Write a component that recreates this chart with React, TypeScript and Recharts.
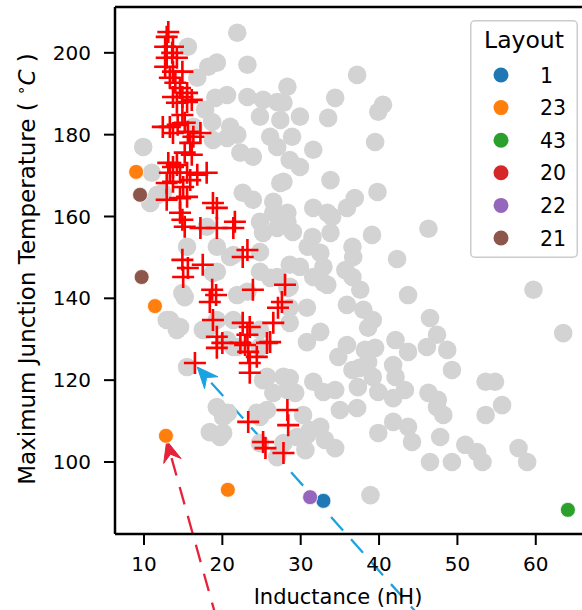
import React from "react";
import { ScatterChart, Scatter, XAxis, YAxis, ReferenceLine, Legend } from "recharts";

const FONT = "DejaVu Sans";
const X_DOMAIN = [6.3, 65.9];
const Y_DOMAIN = [82.4, 211.2];
const X_TICKS = [10, 20, 30, 40, 50, 60];
const Y_TICKS = [100, 120, 140, 160, 180, 200];

// all designs (grey background cloud)
const GRAY_POINTS = [
  [21.9, 204.9], [15.6, 201.5], [18.2, 196.6], [19.3, 197.6], [23.2, 197.1], [16.8, 193.9], [28.3, 191.7],
  [19.1, 189.0], [20.6, 189.7], [23.2, 189.2], [25.2, 188.5], [27.0, 188.0], [37.2, 194.6], [34.4, 189.0],
  [27.8, 187.8], [40.5, 187.3], [39.9, 185.6], [29.9, 184.4], [33.5, 184.1], [27.4, 183.6], [28.9, 179.5],
  [39.5, 178.2], [31.6, 176.3], [28.6, 173.8], [29.9, 172.1], [33.8, 168.9], [27.8, 168.5], [39.8, 166.0],
  [36.9, 164.5], [35.9, 162.1], [31.6, 162.1], [33.4, 160.9], [34.0, 159.9], [28.3, 160.9], [28.3, 158.7],
  [33.8, 156.0], [39.1, 155.5], [46.3, 157.0], [31.5, 155.0], [30.9, 152.6], [32.5, 151.1], [36.6, 152.6],
  [36.7, 150.1], [35.7, 146.9], [36.6, 145.2], [42.3, 149.6], [29.9, 147.7], [32.9, 147.7], [31.6, 145.2],
  [33.4, 143.3], [37.6, 142.1], [43.7, 140.8], [59.7, 142.1], [28.6, 142.8], [32.9, 143.8], [35.9, 138.4],
  [38.0, 137.2], [39.2, 134.7], [38.6, 132.8], [30.8, 137.7], [28.6, 134.0], [32.5, 131.8], [30.8, 129.3],
  [46.5, 135.2], [47.4, 131.1], [46.1, 128.1], [48.7, 127.4], [42.1, 129.8], [43.7, 126.9], [63.5, 131.5],
  [35.9, 128.6], [34.8, 125.7], [38.2, 127.4], [39.5, 127.9], [38.6, 124.4], [36.6, 122.5], [41.8, 123.7],
  [42.1, 120.8], [43.3, 117.6], [39.9, 117.1], [37.3, 118.3], [41.8, 115.6], [49.3, 122.5], [53.6, 119.6],
  [54.8, 119.6], [28.6, 120.5], [29.3, 116.9], [31.6, 119.6], [32.9, 117.1], [34.4, 117.6], [46.3, 116.9],
  [47.5, 115.2], [48.2, 111.5], [55.7, 113.9], [53.6, 111.5], [35.0, 112.7], [37.2, 113.2], [30.3, 111.5],
  [32.5, 108.6], [30.8, 106.6], [33.1, 105.4], [34.4, 103.4], [30.6, 102.9], [39.9, 107.1], [41.8, 109.8],
  [43.7, 108.6], [44.2, 104.9], [47.8, 106.1], [51.0, 104.2], [52.5, 102.4], [53.2, 100.0], [46.5, 100.0],
  [49.3, 100.0], [57.8, 103.4], [58.9, 100.0], [38.9, 91.9], [15.2, 140.3], [12.9, 134.7], [14.6, 133.0],
  [18.0, 132.3], [21.4, 134.7], [15.5, 123.2], [19.3, 113.4], [20.7, 112.0], [18.4, 107.3], [19.7, 106.1],
  [24.8, 111.0], [25.2, 120.0], [27.8, 120.8], [21.4, 128.1], [9.9, 177.0], [11.0, 170.7], [10.8, 163.3],
  [12.4, 165.8], [17.8, 186.1], [21.0, 181.9], [16.3, 181.9], [18.8, 178.7], [22.3, 175.6], [23.9, 174.6],
  [27.0, 177.0], [24.8, 184.4], [27.4, 168.2], [22.6, 165.8], [23.9, 164.1], [18.0, 157.5], [15.5, 152.6],
  [19.3, 152.6], [21.0, 150.1], [26.5, 160.9], [25.2, 156.0], [18.8, 146.2], [14.9, 141.3], [27.0, 145.2],
  [11.7, 165.3], [26.5, 163.6], [24.8, 158.7], [27.0, 157.2], [29.0, 156.2], [21.4, 150.6], [24.8, 151.3],
  [19.3, 146.5], [24.8, 146.5], [26.1, 145.0], [28.6, 148.2], [21.9, 140.8], [23.2, 141.6], [28.3, 142.5],
  [28.6, 137.7], [13.3, 134.7], [14.2, 132.3], [17.5, 132.3], [19.3, 134.7], [20.6, 129.8], [21.9, 128.1],
  [24.8, 132.3], [24.8, 128.1], [25.7, 120.8], [28.3, 117.6], [26.5, 116.9], [20.1, 111.0], [20.1, 107.1],
  [24.4, 112.0], [25.7, 112.7], [24.8, 104.6], [27.8, 104.6], [27.0, 101.2], [37.5, 123.0], [39.2, 120.8],
  [47.4, 113.4], [31.2, 107.8], [29.5, 106.1], [18.7, 183.1], [20.6, 179.2], [21.9, 180.0], [26.1, 179.5],
];

// pareto / selected designs (red crosses)
const CROSS_POINTS = [
  [13.1, 205.1], [12.9, 203.9], [13.7, 201.5], [12.7, 201.5], [13.6, 200.0], [12.9, 198.8], [14.2, 198.8],
  [12.7, 196.6], [13.7, 195.4], [14.9, 195.4], [13.3, 193.9], [14.0, 192.7], [14.6, 191.4], [15.5, 190.2],
  [13.7, 189.2], [14.9, 189.2], [16.1, 188.5], [14.2, 187.8], [15.5, 188.0], [14.9, 184.8], [13.3, 181.9],
  [12.4, 181.9], [14.3, 182.4], [15.2, 182.9], [13.7, 180.4], [15.6, 180.7], [16.3, 179.5], [17.2, 180.4],
  [15.9, 178.0], [15.2, 175.6], [16.1, 175.1], [13.1, 173.1], [13.7, 172.1], [14.2, 172.6], [13.3, 170.7],
  [14.6, 170.7], [12.9, 168.2], [13.7, 168.5], [15.5, 170.7], [15.9, 168.9], [15.0, 167.2], [12.9, 164.1],
  [14.6, 164.5], [15.5, 164.8], [14.6, 160.9], [14.9, 159.2], [15.2, 157.5], [18.0, 170.7], [16.8, 170.2],
  [18.8, 163.3], [19.3, 162.1], [17.2, 157.2], [19.3, 157.2], [21.6, 158.7], [21.4, 157.2], [23.2, 151.8],
  [22.6, 150.1], [14.9, 149.4], [15.6, 147.4], [15.0, 145.2], [17.5, 148.2], [18.7, 142.1], [19.2, 140.8],
  [18.4, 139.1], [23.9, 142.1], [28.0, 143.3], [27.6, 139.1], [27.1, 137.7], [18.8, 134.7], [19.3, 130.6],
  [20.0, 129.1], [19.3, 127.9], [22.6, 134.0], [23.5, 133.0], [23.2, 131.1], [22.3, 129.1], [22.9, 128.6],
  [23.3, 126.9], [25.7, 129.1], [26.1, 129.3], [24.4, 125.7], [23.5, 124.2], [23.5, 121.8], [26.5, 134.0],
  [16.5, 124.2], [23.3, 109.8], [25.2, 104.9], [25.5, 103.4], [27.8, 102.2], [28.3, 112.7], [28.4, 109.0],
];

// reference layouts
const LAYOUT_NAMES = ["1", "23", "43", "20", "22", "21"];
const LAYOUT_COLORS = ["#1f77b4", "#ff7f0e", "#2ca02c", "#d62728", "#9467bd", "#8c564b"];
const LAYOUT_1 = [[32.9, 90.5]];
const LAYOUT_23 = [[9.0, 170.9], [11.4, 138.1], [12.8, 106.4], [20.7, 93.2]];
const LAYOUT_43 = [[64.1, 88.3]];
const LAYOUT_20: number[][] = [];
const LAYOUT_22 = [[31.2, 91.4]];
const LAYOUT_21 = [[9.5, 165.3], [9.7, 145.2]];
const LAYOUT_POINTS = [LAYOUT_1, LAYOUT_23, LAYOUT_43, LAYOUT_20, LAYOUT_22, LAYOUT_21];

// annotation arrows: [tail, head]
const BLUE_ARROW = [[45.6, 61.4], [16.8, 123.2]];
const RED_ARROW = [[19.3, 61.4], [12.9, 105.2]];

const rows = (pts: number[][]) => pts.map(([x, y]) => ({ x, y }));

const GrayDot = (p: any) => <circle cx={p.cx} cy={p.cy} r={9.3} fill="#d3d3d3" />;
const Cross = (p: any) => (
  <path
    d={`M${p.cx - 11},${p.cy}H${p.cx + 11}M${p.cx},${p.cy - 11}V${p.cy + 11}`}
    stroke="#ff0000"
    strokeWidth={2.6}
    fill="none"
  />
);
const colorDot = (color: string) => (p: any) => (
  <circle cx={p.cx} cy={p.cy} r={7.5} fill={color} stroke="#ffffff" strokeWidth={0.8} />
);

const arrowShape = (color: string) => (p: any) => {
  const { x1, y1, x2, y2 } = p;
  const dx = x2 - x1;
  const dy = y2 - y1;
  const len = Math.hypot(dx, dy);
  const ux = dx / len;
  const uy = dy / len;
  const nx = -uy;
  const ny = ux;
  const L = 21;
  const W = 9;
  const N = 14;
  const bx = x2 - ux * L;
  const by = y2 - uy * L;
  const head = `M${x2},${y2}L${bx + nx * W},${by + ny * W}L${x2 - ux * N},${y2 - uy * N}L${bx - nx * W},${by - ny * W}Z`;
  return (
    <g>
      <line x1={x1} y1={y1} x2={x2 - ux * N} y2={y2 - uy * N} stroke={color} strokeWidth={2.3} strokeDasharray="18 12" />
      <path d={head} fill={color} stroke={color} strokeWidth={1} />
    </g>
  );
};

const LegendBox = () => (
  <svg width={108} height={238} style={{ display: "block", fontFamily: FONT }}>
    <rect x={0.75} y={0.75} width={106.5} height={236.5} rx={4} fill="#ffffff" fillOpacity={0.8} stroke="#cccccc" strokeWidth={1.5} />
    <text x={54} y={28} textAnchor="middle" fontSize={23.5} fill="#000">Layout</text>
    {LAYOUT_NAMES.map((name, i) => (
      <g key={name}>
        <circle cx={31} cy={55 + i * 32.6} r={7.5} fill={LAYOUT_COLORS[i]} />
        <text x={70} y={55 + i * 32.6 + 7.5} fontSize={20.5} fill="#000">{name}</text>
      </g>
    ))}
  </svg>
);

const YLabel = () => (
  <text x={35} y={269} transform="rotate(-90, 35, 269)" textAnchor="middle" fontSize={23} fill="#000" fontFamily={FONT}>
    <tspan>Maximum Junction Temperature ( </tspan>
    <tspan dy={-9} fontSize={15}>∘</tspan>
    <tspan dy={9} fontStyle="italic">C</tspan>
    <tspan> )</tspan>
  </text>
);

const XLabel = () => (
  <text x={338} y={604} textAnchor="middle" fontSize={21} fill="#000" fontFamily={FONT}>
    Inductance (nH)
  </text>
);

export default function App() {
  const tick = { fill: "#000", fontSize: 20, fontFamily: FONT };
  return (
    <div style={{ position: "absolute", left: 0, top: 0, width: 582, height: 610, overflow: "hidden", background: "#fff" }}>
      <ScatterChart width={582} height={610} margin={{ top: 7, right: 0, bottom: 0, left: 0 }} style={{ fontFamily: FONT }}>
        <XAxis
          type="number"
          dataKey="x"
          domain={X_DOMAIN}
          allowDataOverflow
          ticks={X_TICKS}
          interval={0}
          height={76}
          tick={tick}
          tickSize={11}
          tickMargin={12}
          axisLine={{ stroke: "#000", strokeWidth: 2.5 }}
          tickLine={{ stroke: "#000", strokeWidth: 2 }}
          label={{ content: XLabel }}
        />
        <YAxis
          type="number"
          dataKey="y"
          domain={Y_DOMAIN}
          allowDataOverflow
          ticks={Y_TICKS}
          interval={0}
          width={115}
          tick={tick}
          tickSize={11}
          tickMargin={13}
          axisLine={{ stroke: "#000", strokeWidth: 2.5 }}
          tickLine={{ stroke: "#000", strokeWidth: 2 }}
          label={{ content: YLabel }}
        />
        <Scatter data={rows(GRAY_POINTS)} shape={GrayDot} isAnimationActive={false} />
        <Scatter data={rows(CROSS_POINTS)} shape={Cross} isAnimationActive={false} />
        {LAYOUT_POINTS.map((pts, i) => (
          <Scatter
            key={LAYOUT_NAMES[i]}
            name={LAYOUT_NAMES[i]}
            data={rows(pts)}
            shape={colorDot(LAYOUT_COLORS[i])}
            isAnimationActive={false}
          />
        ))}
        <ReferenceLine y={Y_DOMAIN[1]} stroke="#000" strokeWidth={2.5} ifOverflow="visible" />
        <ReferenceLine
          segment={BLUE_ARROW.map(([x, y]) => ({ x, y }))}
          ifOverflow="visible"
          shape={arrowShape("#1aa3e0")}
        />
        <ReferenceLine
          segment={RED_ARROW.map(([x, y]) => ({ x, y }))}
          ifOverflow="visible"
          shape={arrowShape("#e5223a")}
        />
        <Legend
          layout="horizontal"
          verticalAlign="middle"
          align="center"
          content={LegendBox}
          wrapperStyle={{ left: 470, top: 20, width: 108, height: 238 }}
        />
      </ScatterChart>
    </div>
  );
}
